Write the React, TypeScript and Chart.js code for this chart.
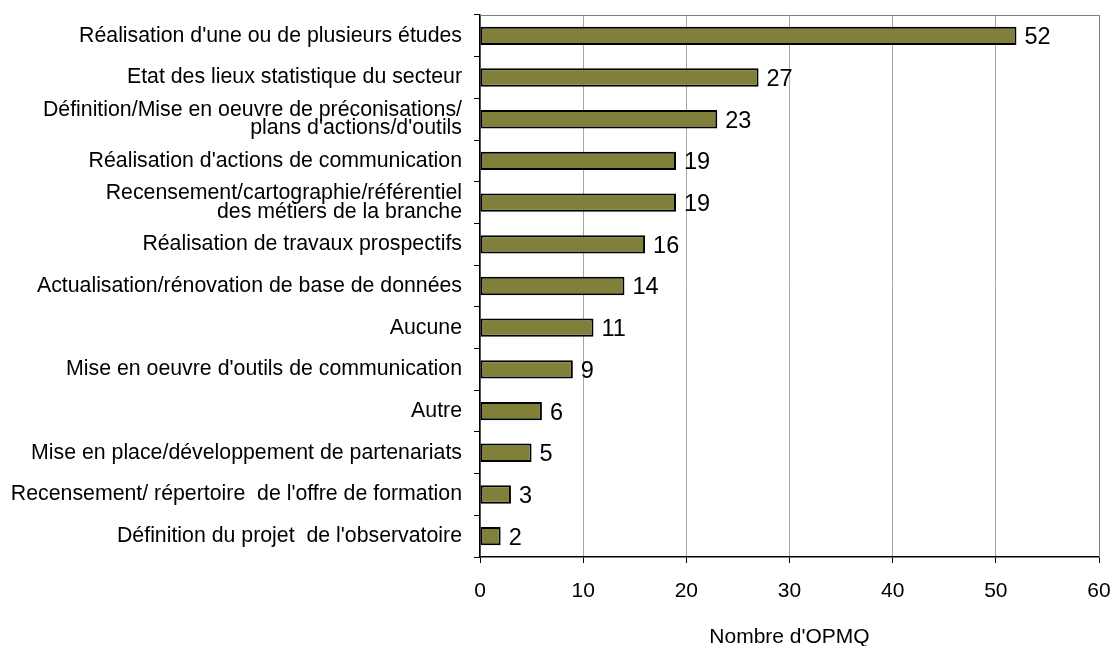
import React, { useEffect, useRef } from "react";
import { Chart, registerables } from "chart.js";

Chart.register(...registerables);

const categories: (string | string[])[] = [
  "Réalisation d'une ou de plusieurs études",
  "Etat des lieux statistique du secteur",
  ["Définition/Mise en oeuvre de préconisations/", "plans d'actions/d'outils"],
  "Réalisation d'actions de communication",
  ["Recensement/cartographie/référentiel", "des métiers de la branche"],
  "Réalisation de travaux prospectifs",
  "Actualisation/rénovation de base de données",
  "Aucune",
  "Mise en oeuvre d'outils de communication",
  "Autre",
  "Mise en place/développement de partenariats",
  "Recensement/ répertoire  de l'offre de formation",
  "Définition du projet  de l'observatoire",
];

const values: number[] = [52, 27, 23, 19, 19, 16, 14, 11, 9, 6, 5, 3, 2];

const xTicks: number[] = [0, 10, 20, 30, 40, 50, 60];

const axisTitle = "Nombre d'OPMQ";

const FONT = "'Liberation Sans', Arial, Helvetica, sans-serif";

export default function App() {
  const ref = useRef<HTMLCanvasElement | null>(null);

  useEffect(() => {
    document.body.style.margin = "0";
    const canvas = ref.current;
    if (!canvas) return;

    const frame = {
      id: "frame",
      afterDraw(chart: any) {
        const { ctx, chartArea } = chart;
        ctx.save();
        ctx.strokeStyle = "#808080";
        ctx.lineWidth = 1;
        ctx.beginPath();
        ctx.moveTo(chartArea.left, chartArea.top + 0.5);
        ctx.lineTo(chartArea.right + 0.5, chartArea.top + 0.5);
        ctx.lineTo(chartArea.right + 0.5, chartArea.bottom);
        ctx.stroke();
        ctx.restore();
      },
    };

    const dataLabels = {
      id: "dataLabels",
      afterDatasetsDraw(chart: any) {
        const { ctx } = chart;
        const meta = chart.getDatasetMeta(0);
        ctx.save();
        ctx.fillStyle = "#000";
        ctx.font = `23.5px ${FONT}`;
        ctx.textAlign = "left";
        ctx.textBaseline = "middle";
        meta.data.forEach((bar: any, i: number) => {
          ctx.fillText(String(values[i]), bar.x + 8, bar.y + 2);
        });
        ctx.restore();
      },
    };

    const zeroPad = (scale: any) => {
      scale.paddingTop = 0;
      scale.paddingBottom = 0;
      scale.paddingLeft = 0;
      scale.paddingRight = 0;
    };

    const chart = new Chart(canvas, {
      type: "bar",
      data: {
        labels: categories,
        datasets: [
          {
            data: values,
            backgroundColor: "#80803A",
            borderColor: "#000",
            borderWidth: 2,
            borderSkipped: false,
            categoryPercentage: 1,
            barPercentage: 0.44,
          },
        ],
      },
      options: {
        indexAxis: "y",
        responsive: false,
        animation: false,
        layout: { padding: { top: 15, right: 15, left: 0, bottom: 0 } },
        plugins: {
          legend: { display: false },
          tooltip: { enabled: false },
        },
        scales: {
          x: {
            min: 0,
            max: 60,
            afterBuildTicks(scale: any) {
              scale.ticks = xTicks.map((v) => ({ value: v }));
            },
            afterFit(scale: any) {
              scale.height = 89;
              zeroPad(scale);
            },
            border: { color: "#000", width: 1.5 },
            grid: {
              color: "#a6a6a6",
              lineWidth: 1,
              tickColor: "#000",
              tickLength: 6,
              drawTicks: true,
            },
            ticks: {
              color: "#000",
              padding: 16,
              font: { family: FONT, size: 21 },
            },
            title: {
              display: true,
              text: axisTitle,
              color: "#000",
              font: { family: FONT, size: 21, lineHeight: 0.85 },
              padding: { top: 0, bottom: 0 },
            },
          },
          y: {
            afterFit(scale: any) {
              scale.width = 480;
              zeroPad(scale);
            },
            border: { color: "#000", width: 1.5 },
            grid: {
              drawOnChartArea: false,
              color: "#000",
              tickLength: 6,
              offset: true,
            },
            ticks: {
              color: "#000",
              padding: 12,
              font: { family: FONT, size: 21.3, lineHeight: 0.86 },
            },
          },
        },
      },
      plugins: [frame, dataLabels],
    });

    return () => chart.destroy();
  }, []);

  return (
    <div style={{ width: 1114, height: 646, background: "#fff" }}>
      <canvas ref={ref} width={1114} height={646} style={{ display: "block" }} />
    </div>
  );
}
